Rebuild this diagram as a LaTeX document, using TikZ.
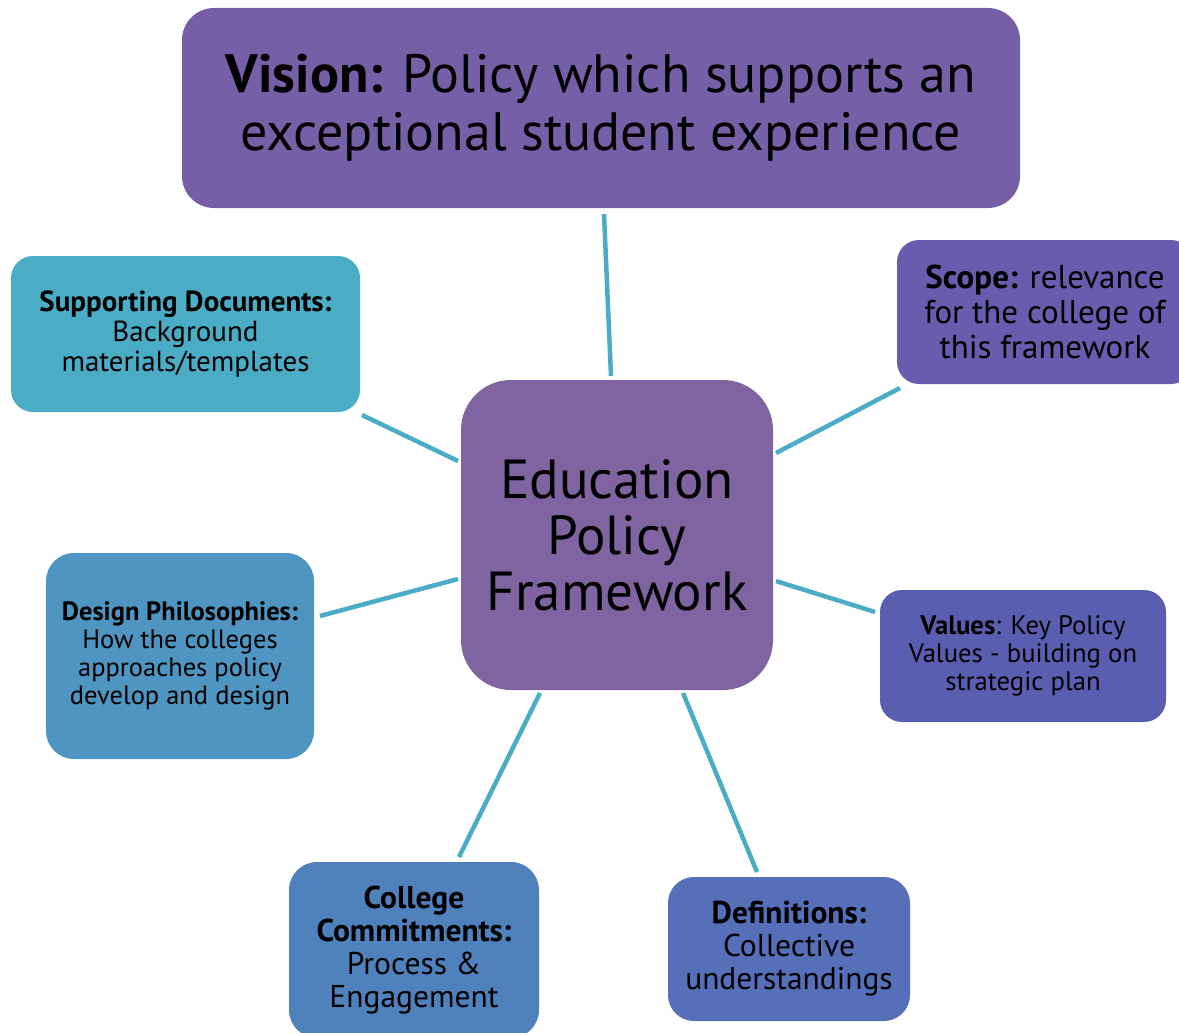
\documentclass[tikz,border=0pt]{standalone}
\usepackage{fontspec}
\setmainfont{PT Sans}
\definecolor{cVision}{HTML}{7560A8}
\definecolor{cCenter}{HTML}{8064A2}
\definecolor{cSupp}{HTML}{4BACC6}
\definecolor{cScope}{HTML}{6A5BAE}
\definecolor{cDesign}{HTML}{4F95C1}
\definecolor{cValues}{HTML}{5A5EB1}
\definecolor{cCollege}{HTML}{4F81BD}
\definecolor{cDef}{HTML}{5570B9}
\definecolor{cLine}{HTML}{4BACC6}
\tikzset{
  box/.style={rounded corners=#1, inner sep=0pt, align=center, text=black},
  link/.style={draw=cLine, line width=4.5pt}
}
\begin{document}
\begin{tikzpicture}[x=1pt,y=-1pt]
\useasboundingbox (0,0) rectangle (1179,1033);
\clip (0,0) rectangle (1179,1033);
% boxes
\node[box=32, fill=cVision, minimum width=838pt, minimum height=200pt,
  font=\fontsize{54}{58}\selectfont] (vision) at (601,108)
  {\textbf{Vision:} Policy which supports an\\exceptional student experience};
\node[box=50, fill=cCenter, minimum width=312pt, minimum height=310pt,
  font=\fontsize{55}{56}\selectfont] (center) at (617,535)
  {Education\\Policy\\Framework};
\node[box=22, fill=cSupp, minimum width=349pt, minimum height=156pt,
  font=\fontsize{29}{30}\selectfont] (supp) at (185.5,334)
  {\textbf{Supporting Documents:}\\Background\\materials/templates};
\node[box=22, fill=cScope, minimum width=296pt, minimum height=144pt,
  font=\fontsize{33}{35}\selectfont] (scope) at (1045,312)
  {\textbf{Scope:} relevance\\for the college of\\this framework};
\node[box=28, fill=cDesign, minimum width=268pt, minimum height=206pt,
  font=\fontsize{26.5}{28}\selectfont] (design) at (180,656)
  {\textbf{Design Philosophies:}\\How the colleges\\approaches policy\\develop and design};
\node[box=22, fill=cValues, minimum width=286pt, minimum height=132pt,
  font=\fontsize{26.7}{28}\selectfont] (values) at (1023,656)
  {\textbf{Values}: Key Policy\\Values - building on\\strategic plan};
\node[box=28, fill=cCollege, minimum width=250pt, minimum height=176pt,
  font=\fontsize{31.5}{33}\selectfont] (college) at (414,950)
  {\textbf{College}\\\textbf{Commitments:}\\Process \&\\Engagement};
\node[box=26, fill=cDef, minimum width=242pt, minimum height=144pt,
  font=\fontsize{31.5}{33}\selectfont] (defs) at (789,949)
  {\textbf{Definitions:}\\Collective\\understandings};
% connector end points
\coordinate (v1) at (604,214);  \coordinate (v2) at (611,376);
\coordinate (s1) at (362,415);  \coordinate (s2) at (458,461);
\coordinate (p1) at (900,388);  \coordinate (p2) at (776,453);
\coordinate (d1) at (320,616);  \coordinate (d2) at (458,579);
\coordinate (a1) at (776,581);  \coordinate (a2) at (875,612);
\coordinate (c1) at (540,693);  \coordinate (c2) at (459,857);
\coordinate (f1) at (683,693);  \coordinate (f2) at (757,872);
\draw[link] (v1) -- (v2);
\draw[link] (s1) -- (s2);
\draw[link] (p1) -- (p2);
\draw[link] (d1) -- (d2);
\draw[link] (a1) -- (a2);
\draw[link] (c1) -- (c2);
\draw[link] (f1) -- (f2);
\end{tikzpicture}
\end{document}
